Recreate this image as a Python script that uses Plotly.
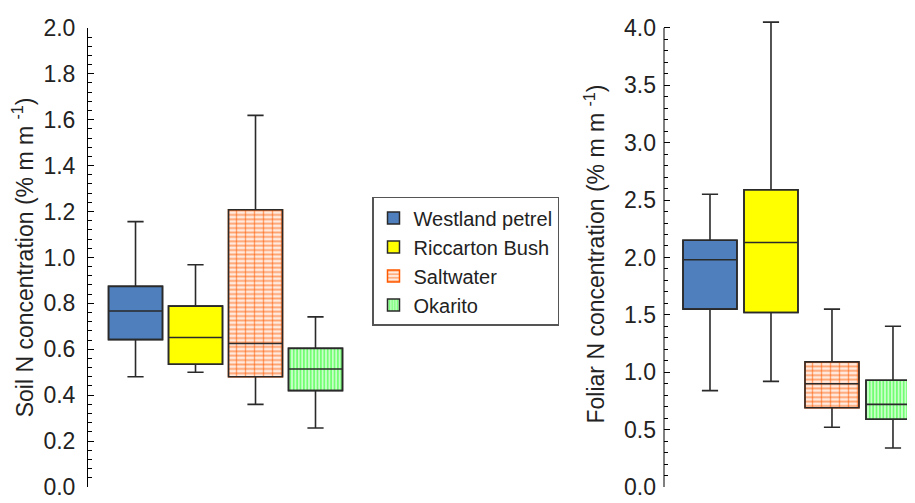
import plotly.graph_objects as go

sites = ["Westland petrel", "Riccarton Bush", "Saltwater", "Okarito"]

# Soil N concentration (left panel)
soil_low = [0.48, 0.50, 0.36, 0.257]
soil_q1 = [0.642, 0.535, 0.48, 0.42]
soil_med = [0.767, 0.651, 0.625, 0.514]
soil_q3 = [0.874, 0.788, 1.208, 0.604]
soil_high = [1.156, 0.968, 1.619, 0.741]

# Foliar N concentration (right panel)
fol_low = [0.84, 0.92, 0.52, 0.34]
fol_q1 = [1.55, 1.52, 0.69, 0.59]
fol_med = [1.98, 2.13, 0.90, 0.72]
fol_q3 = [2.15, 2.59, 1.09, 0.93]
fol_high = [2.55, 4.05, 1.55, 1.40]

soil_ticks = [0.0, 0.2, 0.4, 0.6, 0.8, 1.0, 1.2, 1.4, 1.6, 1.8, 2.0]
fol_ticks = [0.0, 0.5, 1.0, 1.5, 2.0, 2.5, 3.0, 3.5, 4.0]

FONT = "Liberation Sans, Arial, sans-serif"
EDGE = "#2a2a2a"
ORANGE = "#ff5a00"

styles = [
    dict(color="#4f7fbd", pattern=None, line="#2a2a2a"),
    dict(color="#ffff00", pattern=None, line="#2a2a2a"),
    dict(color="#ffffff", pattern=dict(shape="-", fgcolor=ORANGE, bgcolor="#ffeadf", size=4.4, solidity=0.42), line=ORANGE),
    dict(color="#ffffff", pattern=dict(shape="|", fgcolor="#00ff00", bgcolor="#e6ffe6", size=3.4, solidity=0.62), line="#2a2a2a"),
]

fig = go.Figure()

def add_panel(lo, q1, med, q3, hi, xa, ya, width, legend):
    for i, name in enumerate(sites):
        st = styles[i]
        marker = dict(color=st["color"], line=dict(color=st["line"], width=1.5))
        if st["pattern"] is not None:
            marker["pattern"] = st["pattern"]
        fig.add_trace(go.Bar(
            x=[i], y=[q3[i] - q1[i]], base=[q1[i]], width=width,
            marker=marker, name=name, showlegend=legend,
            xaxis=xa, yaxis=ya, hoverinfo="skip",
        ))
        if i == 2:
            # vertical brick joints
            fig.add_trace(go.Bar(
                x=[i], y=[q3[i] - q1[i]], base=[q1[i]], width=width,
                marker=dict(color="rgba(0,0,0,0)", line=dict(width=0),
                            pattern=dict(shape="|", fgcolor=ORANGE, bgcolor="rgba(0,0,0,0)",
                                         size=9, solidity=0.16)),
                showlegend=False, xaxis=xa, yaxis=ya, hoverinfo="skip",
            ))
        fig.add_trace(go.Box(
            x=[i], q1=[q1[i]], median=[med[i]], q3=[q3[i]],
            lowerfence=[lo[i]], upperfence=[hi[i]],
            width=width, whiskerwidth=0.3,
            fillcolor="rgba(0,0,0,0)", line=dict(color=EDGE, width=1.6),
            showlegend=False, xaxis=xa, yaxis=ya, hoverinfo="skip",
        ))

add_panel(soil_low, soil_q1, soil_med, soil_q3, soil_high, "x", "y", 0.9, True)
add_panel(fol_low, fol_q1, fol_med, fol_q3, fol_high, "x2", "y2", 0.885, False)

# page body has an 8px margin: work in reference pixels minus 8
OFF = 8
W, H = 915 - OFF, 503 - OFF
ML, MR, MT, MB = 88 - OFF, 0, 13 - OFF, 16
pw = W - ML - MR
ph = H - MT - MB
bottom_px = 487 - OFF

left_end = (350 - OFF - ML) / pw
right_start = (664 - OFF - ML) / pw
left_top = (bottom_px - (20 - OFF)) / ph

yaxis_common = dict(
    ticks="inside", ticklen=6, tickwidth=1, tickcolor="black",
    showgrid=False, zeroline=False,
    tickfont=dict(family=FONT, size=23, color="#222"),
    tickformat=".1f", ticklabelstandoff=7, ticklabeloverflow="allow",
)

fig.update_layout(
    width=W, height=H,
    margin=dict(l=ML, r=MR, t=MT, b=MB),
    paper_bgcolor="white", plot_bgcolor="white",
    barmode="overlay", boxmode="overlay",
    font=dict(family=FONT, color="#222"),
    xaxis=dict(domain=[0, left_end], range=[-0.792, 3.575], visible=False),
    xaxis2=dict(domain=[right_start, 1], range=[-0.754, 3.361], visible=False),
    yaxis=dict(
        domain=[0, left_top], range=[0, 2.0], anchor="x",
        tickvals=soil_ticks, showline=True, linecolor="black", linewidth=1,
        minor=dict(ticks="inside", ticklen=3.5, dtick=0.04, tickcolor="black", tickwidth=1),
        title=dict(text="Soil N concentration (% m m <sup>-1</sup>)",
                   font=dict(family=FONT, size=23, color="#222"), standoff=12),
        **yaxis_common,
    ),
    yaxis2=dict(
        domain=[0, 1], range=[0, 4.06], anchor="x2",
        tickvals=fol_ticks, showline=False,
        minor=dict(ticks="inside", ticklen=3.5, dtick=0.1, tickcolor="black", tickwidth=1),
        title=dict(text="Foliar N concentration (% m m <sup>-1</sup>)",
                   font=dict(family=FONT, size=23, color="#222"), standoff=12),
        **yaxis_common,
    ),
    legend=dict(
        x=(372 - OFF - ML) / pw, y=(bottom_px - (192 - OFF)) / ph,
        xanchor="left", yanchor="top",
        bordercolor="#555", borderwidth=1.5, bgcolor="white",
        font=dict(family=FONT, size=20, color="#222"),
        traceorder="normal",
    ),
    shapes=[dict(type="line", xref="x2 domain", yref="y2", x0=0, x1=0, y0=0, y1=4.0,
                 line=dict(color="black", width=1))],
)

fig.write_html("out.html")
